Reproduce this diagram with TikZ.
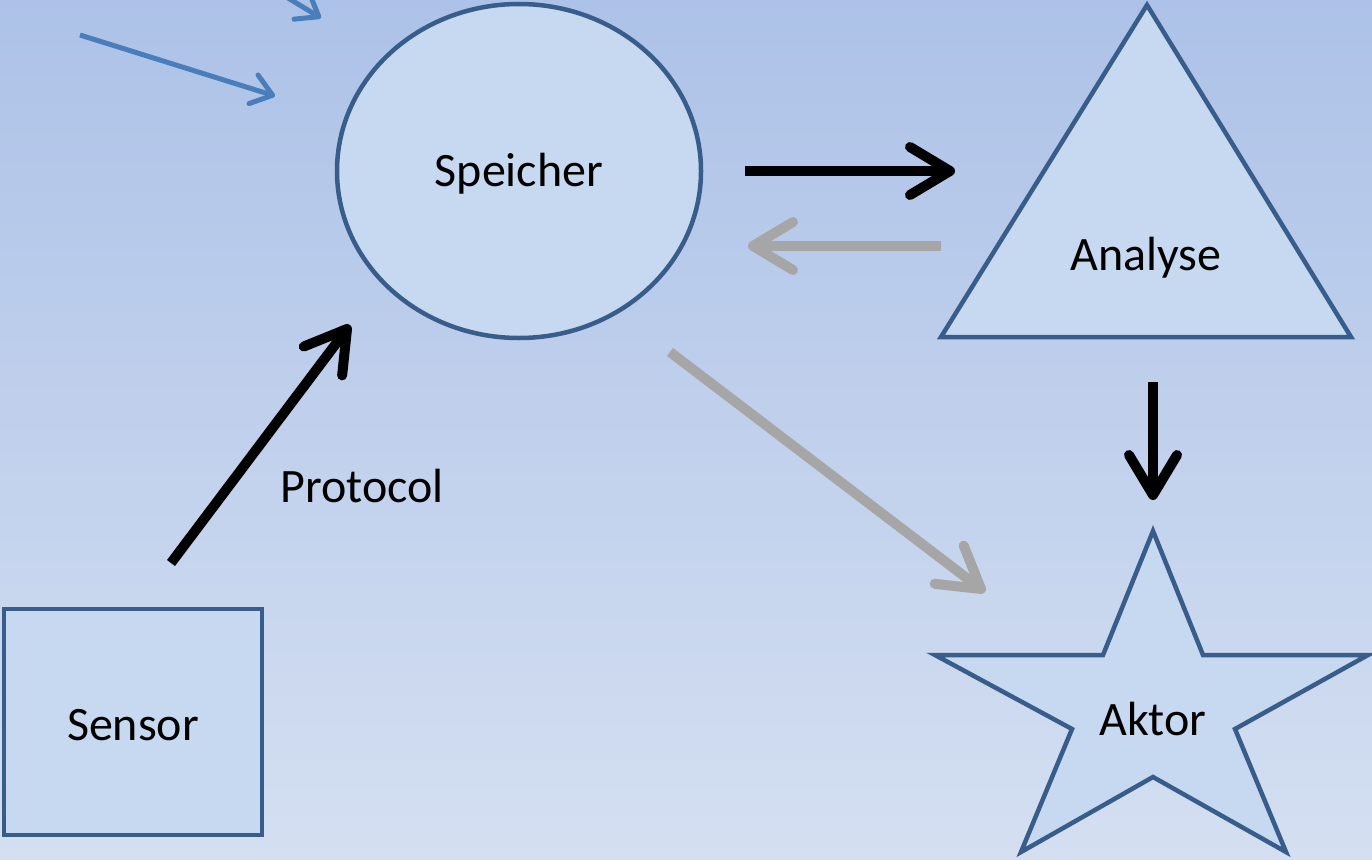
\documentclass[tikz,border=0pt]{standalone}
\usepackage{fontspec}
\setmainfont{Carlito}
\usetikzlibrary{arrows.meta,shapes.geometric}
\definecolor{bgtop}{RGB}{173,194,232}
\definecolor{bgbot}{RGB}{212,223,241}
\definecolor{shapefill}{RGB}{198,217,241}
\definecolor{shapeline}{RGB}{56,93,138}
\definecolor{arrblue}{RGB}{74,126,187}
\definecolor{arrgray}{RGB}{166,166,166}
\tikzset{
  shapestyle/.style={draw=shapeline, fill=shapefill, line width=4.5pt, line join=miter},
  lbl/.style={font=\fontsize{48}{54}\selectfont, inner sep=0pt},
  bigarrow/.style={line width=10pt, -{Straight Barb[length=40pt,width=48pt,round]}},
  smallarrow/.style={line width=5pt, draw=arrblue, -{Straight Barb[length=20pt,width=30pt,round]}},
}
\begin{document}
\begin{tikzpicture}[x=1pt,y=-1pt]
\useasboundingbox (0,0) rectangle (1372,859);
\shade[top color=bgtop, bottom color=bgbot] (0,0) rectangle (1372,859);
\clip (0,0) rectangle (1372,859);

% shapes
\node[shapestyle, ellipse, minimum width=364pt, minimum height=334pt, inner sep=0pt] (sp) at (519,171) {};
\node[lbl] at ([yshift=-3pt]sp.center) {Speicher};

\node[shapestyle, rectangle, minimum width=258pt, minimum height=226pt, inner sep=0pt] (se) at (133,722) {};
\node[lbl] at ([yshift=-3pt]se.center) {Sensor};

\draw[shapestyle] (1147,5) -- (1351,337) -- (941,337) -- cycle;
\node[lbl] (an) at (1146,258) {Analyse};

\draw[shapestyle] (1153,531) -- (1203,655) -- (1368,655) -- (1235,729) -- (1286,852)
  -- (1153,777) -- (1021,852) -- (1072,729) -- (935,655) -- (1103,655) -- cycle;
\node[lbl] (ak) at (1153,719) {Aktor};

\node[lbl] (pr) at (362,486) {Protocol};

% connector end points
\coordinate (spE) at (745,171);
\coordinate (anW) at (955,171);
\coordinate (anW2) at (941,246);
\coordinate (spE2) at (748,246);
\coordinate (seN) at (171,563);
\coordinate (spSW) at (350,325);
\coordinate (anS) at (1153,382);
\coordinate (akN) at (1153,500);
\coordinate (spSE) at (670,352);
\coordinate (akNW) at (985,592);
\coordinate (b1s) at (80,35);
\coordinate (b1e) at (275,96);
\coordinate (b2s) at (255,-22);
\coordinate (b2e) at (321,18);

\draw[bigarrow, black] (spE) -- (anW);
\draw[bigarrow, arrgray] (anW2) -- (spE2);
\draw[bigarrow, black] (seN) -- (spSW);
\draw[bigarrow, black] (anS) -- (akN);
\draw[bigarrow, arrgray] (spSE) -- (akNW);
\draw[smallarrow] (b1s) -- (b1e);
\draw[smallarrow] (b2s) -- (b2e);
\end{tikzpicture}
\end{document}
